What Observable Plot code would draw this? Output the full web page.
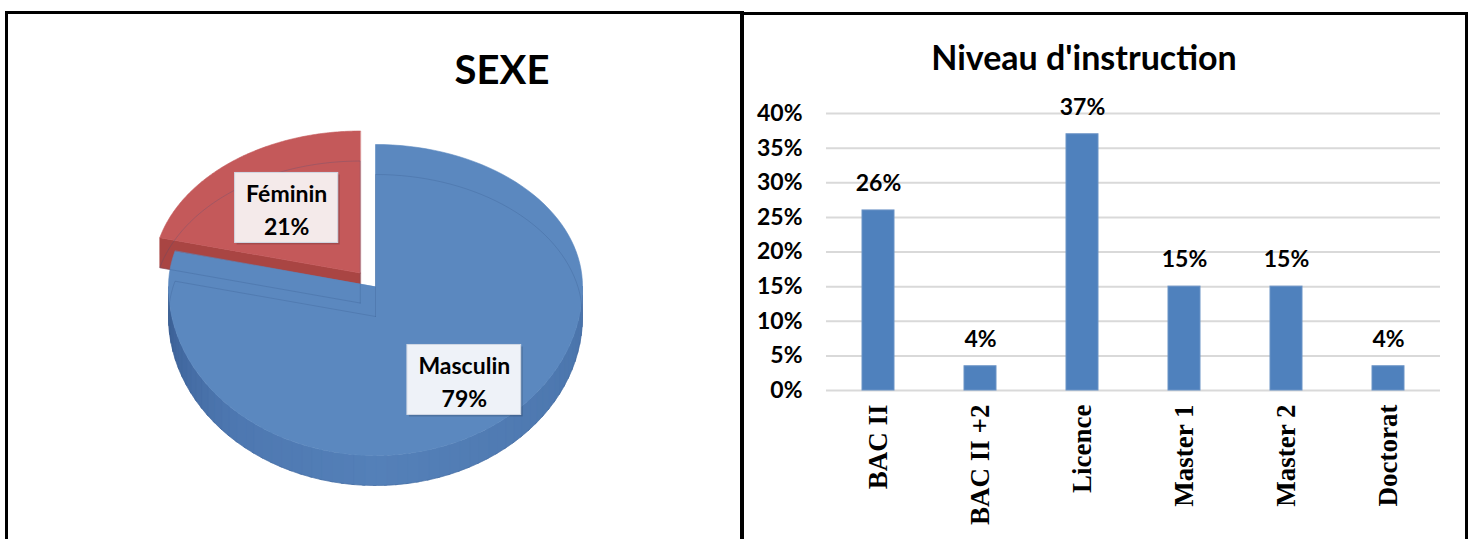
<!DOCTYPE html>
<html>
<head>
<meta charset="utf-8">
<script src="https://cdn.jsdelivr.net/npm/d3@7"></script>
<script src="https://cdn.jsdelivr.net/npm/@observablehq/plot@0.6"></script>
<style>
  html, body { margin: 0; padding: 0; background: #fff; }
  body { width: 1470px; height: 539px; overflow: hidden; position: relative; font-family: Lato, "Open Sans", sans-serif; }
  .panel { position: absolute; border: 3px solid #000; box-sizing: border-box; }
  #leftPanel { left: 5px; top: 11px; width: 739px; height: 580px; }
  #rightPanel { left: 740px; top: 12px; width: 728px; height: 580px; }
  .title { position: absolute; font-weight: 700; color: #000; white-space: nowrap; transform: translateX(-50%); }
  .chart { position: absolute; }
</style>
</head>
<body>
<div class="panel" id="leftPanel"></div>
<div class="panel" id="rightPanel"></div>
<div class="title" style="left:502px; top:44px; font-size:40px; line-height:50px;">SEXE</div>
<div class="title" style="left:1084px; top:35px; font-size:34px; line-height:44px;">Niveau d'instruction</div>
<div class="chart" id="pie" style="left:0; top:100px;"></div>
<div class="chart" id="bars" style="left:741px; top:90px;"></div>

<script>
// ---------------- DATA ----------------
const sexeLabels = ["Masculin", "Féminin"];
const sexeValues = [79, 21];
const sexePercentLabels = ["79%", "21%"];

const niveauCategories = ["BAC II", "BAC II +2", "Licence", "Master 1", "Master 2", "Doctorat"];
const niveauValues = [26, 3.5, 37, 15, 15, 3.5];
const niveauPercentLabels = ["26%", "4%", "37%", "15%", "15%", "4%"];
const niveauTicks = [0, 5, 10, 15, 20, 25, 30, 35, 40];

// ---------------- STYLE ----------------
const topColors = ["#5b88bf", "#c4595a"];
const cutColors = ["#4a72a8", "#a94543"];
const explodeBy = [0, 0.12];
const labelRadius = [0.7, 0.58];

// ---------------- PIE (3D look) ----------------
const PW = 740, PH = 439;
const XR = [168, 582];
const YC = 186, RYT = 142, RYB = 169, DEPTH = 30;
const RX = (XR[1] - XR[0]) / 2;
const persp = v => v >= 0 ? v * RYT / RYB : v;   // far half flatter than near half
const DROP = DEPTH / RYB;

const sexe = sexeLabels.map((l, i) => ({label: l, value: sexeValues[i], pct: sexePercentLabels[i], i}));
const arcs = d3.pie().sort(null).value(d => d.value)(sexe);

const polys = [];
const outlines = [];
let pid = 0;
function pt(a, ox, oy, r = 1) {
  return {x: r * Math.sin(a) + ox, y: persp(r * Math.cos(a) + oy)};
}
function arcPts(a0, a1, n, ox, oy, dropped) {
  const pts = [];
  for (let k = 0; k <= n; k++) {
    const p = pt(a0 + (a1 - a0) * k / n, ox, oy);
    if (dropped) p.y -= DROP;
    pts.push(p);
  }
  return pts;
}
function addPoly(pts, fill) {
  const id = pid++;
  pts.forEach(p => polys.push({x: p.x, y: p.y, id, fill}));
}

arcs.forEach(a => {
  const i = a.data.i;
  const mid = (a.startAngle + a.endAngle) / 2;
  const e = explodeBy[i];
  a.ox = e * Math.sin(mid); a.oy = e * Math.cos(mid); a.mid = mid;
});

// side shading: right -> bottom -> left
const sideShade = d3.scaleLinear()
  .domain([Math.PI / 2, Math.PI, 1.25 * Math.PI, 1.5 * Math.PI])
  .range(["#4a74ab", "#5480b8", "#4d77b0", "#3a5e94"])
  .interpolate(d3.interpolateRgb);

const drawOrder = [1, 0];
drawOrder.forEach(idx => {
  const a = arcs[idx];
  const {ox, oy} = a;
  const c = {x: ox, y: persp(oy)};
  const cd = {x: c.x, y: c.y - DROP};
  if (explodeBy[idx] > 0) {
    const r = pt(a.startAngle, ox, oy);
    addPoly([c, r, {x: r.x, y: r.y - DROP}, cd], cutColors[idx]);
  }
  const s0 = Math.max(a.startAngle, Math.PI / 2), s1 = Math.min(a.endAngle, 3 * Math.PI / 2);
  if (s1 > s0) {
    const strips = 60;
    for (let k = 0; k < strips; k++) {
      const b0 = s0 + (s1 - s0) * k / strips;
      const b1 = Math.min(s1, s0 + (s1 - s0) * (k + 1.2) / strips);
      const col = sideShade((b0 + b1) / 2);
      const top = arcPts(b0, b1, 3, ox, oy, false);
      const bot = arcPts(b0, b1, 3, ox, oy, true).reverse();
      addPoly(top.concat(bot), col);
    }
  }
  addPoly([c].concat(arcPts(a.startAngle, a.endAngle, 120, ox, oy, false)), topColors[idx]);
  const ol = [cd].concat(arcPts(a.startAngle, a.endAngle, 120, ox, oy, true)).concat([cd]);
  ol.forEach(p => outlines.push({x: p.x, y: p.y, id: idx}));
});

// label boxes
const LFS = 23;
const ctx = document.createElement("canvas").getContext("2d");
ctx.font = `bold ${LFS}px Lato`;
const boxes = arcs.map(a => {
  const r = labelRadius[a.data.i];
  const xc = r * Math.sin(a.mid) + a.ox;
  const yc = persp(r * Math.cos(a.mid) + a.oy);
  const w = Math.max(ctx.measureText(a.data.label).width, ctx.measureText(a.data.pct).width) + 22;
  const hh = 35 / RYB;
  return {
    x: xc, y: yc, text: a.data.label + "\n" + a.data.pct,
    x1: xc - w / 2 / RX, x2: xc + w / 2 / RX,
    y1: yc - hh, y2: yc + hh,
    bg: a.data.i === 0 ? "#eef2f8" : "#f4eaea"
  };
});

const pie = Plot.plot({
  width: PW, height: PH,
  margin: 0,
  x: {type: "linear", domain: [-1, 1], range: XR, axis: null},
  y: {type: "linear", domain: [-1, 1], range: [YC + RYB, YC - RYB], axis: null},
  marks: [
    Plot.line(polys, {x: "x", y: "y", z: "id", fill: "fill", stroke: "fill", strokeWidth: 0.6, curve: "linear-closed"}),
    Plot.line(outlines, {x: "x", y: "y", z: "id", stroke: "#2c4f80", strokeOpacity: 0.22, strokeWidth: 1}),
    Plot.rect(boxes, {x1: "x1", x2: "x2", y1: "y1", y2: "y2", fill: "#000", fillOpacity: 0.16, dx: 2, dy: 2}),
    Plot.rect(boxes, {x1: "x1", x2: "x2", y1: "y1", y2: "y2", fill: "bg", stroke: "#d0d8e4", strokeWidth: 1}),
    Plot.text(boxes, {x: "x", y: "y", text: "text", fontSize: LFS, fontWeight: 700, fill: "#000", lineHeight: 1.43, fontFamily: "Lato"})
  ]
});
document.getElementById("pie").appendChild(pie);

// ---------------- BARS ----------------
const niveau = niveauCategories.map((c, i) => ({cat: c, value: niveauValues[i], label: niveauPercentLabels[i]}));
const bars = Plot.plot({
  width: 729, height: 449,
  marginLeft: 85, marginRight: 30, marginTop: 23, marginBottom: 149,
  style: {fontFamily: "Lato, sans-serif", color: "#000", background: "transparent"},
  x: {domain: niveauCategories, padding: 0, label: null},
  y: {domain: [0, 40], label: null},
  marks: [
    Plot.ruleY(niveauTicks, {stroke: "#d9d9d9", strokeWidth: 2}),
    Plot.barY(niveau, {x: "cat", y: "value", fill: "#4f81bd", stroke: "#6b93c6", strokeWidth: 1, insetLeft: 35, insetRight: 35}),
    Plot.text(niveau, {x: "cat", y: "value", text: "label", dy: -27, fontSize: 23, fontWeight: 700, fill: "#000"}),
    Plot.axisY(niveauTicks, {tickSize: 0, tickPadding: 24, tickFormat: d => d + "%", fontSize: 23, fontWeight: 700, label: null}),
    Plot.axisX({tickSize: 0, tickPadding: 14, tickRotate: -90, fontSize: 27, fontWeight: 700, fontFamily: "Liberation Serif, serif", label: null})
  ]
});
document.getElementById("bars").appendChild(bars);
</script>
</body>
</html>
